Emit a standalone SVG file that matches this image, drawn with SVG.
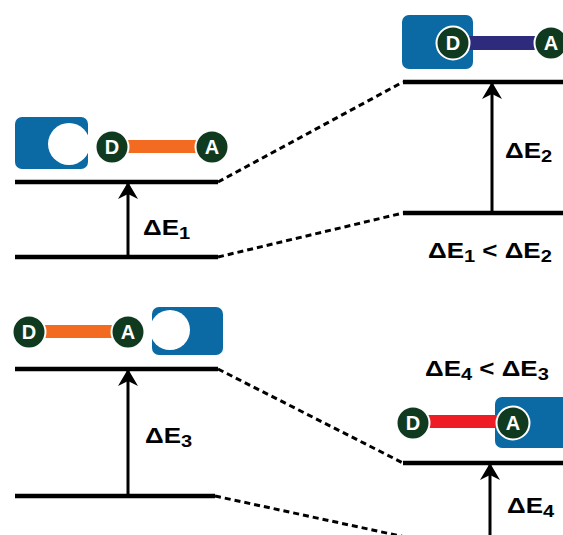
<svg xmlns="http://www.w3.org/2000/svg" width="563" height="535" viewBox="0 0 563 535">
<style>
.lvl{stroke:#000;stroke-width:4.5;fill:none}
.dash{stroke:#000;stroke-width:3;stroke-dasharray:6 4;fill:none}
.arr{stroke:#000;stroke-width:3;fill:none;marker-end:url(#ah)}
.box{fill:#0b69a3}
.hole{fill:#fff}
.ball{fill:#0f3a1f;stroke:#fff;stroke-width:2}
.bl{font-family:"Liberation Sans",Arial,sans-serif;font-weight:bold;font-size:20px;fill:#fff;text-anchor:middle}
.lab{font-family:"Liberation Sans",Arial,sans-serif;font-weight:bold;font-size:22px;fill:#000}
.sub{font-size:17px}
</style>
<defs>
<marker id="ah" markerUnits="userSpaceOnUse" markerWidth="24" markerHeight="24" viewBox="-20 -12 24 24" refX="0" refY="0" orient="auto">
<path d="M0,0 L-17,-10 L-12,0 L-17,10 Z" fill="#000"/>
</marker>
</defs>
<rect width="563" height="535" fill="#fff"/>
<g id="connectors">
<line class="lvl" x1="15" y1="182" x2="218" y2="182"/>
<line class="lvl" x1="15" y1="257" x2="218" y2="257"/>
<line class="lvl" x1="403" y1="82" x2="563" y2="82"/>
<line class="lvl" x1="403" y1="213" x2="563" y2="213"/>
<line class="lvl" x1="15" y1="369" x2="218" y2="369"/>
<line class="lvl" x1="15" y1="496" x2="215" y2="496"/>
<line class="lvl" x1="403" y1="463" x2="563" y2="463"/>
<line class="dash" x1="218" y1="182" x2="403" y2="82"/>
<line class="dash" x1="218" y1="257" x2="403" y2="213"/>
<line class="dash" x1="218" y1="369" x2="403" y2="463"/>
<line class="dash" x1="215" y1="496" x2="405" y2="537"/>
<line class="arr" x1="128" y1="257" x2="128" y2="182"/>
<line class="arr" x1="492" y1="213" x2="492" y2="82"/>
<line class="arr" x1="128" y1="496" x2="128" y2="369"/>
<line class="arr" x1="490" y1="540" x2="490" y2="463"/>
</g>
<g id="receptor-tl">
<rect class="box" x="15" y="117" width="73" height="52" rx="7"/>
<circle class="hole" cx="69" cy="144" r="21"/>
</g>
<g id="molecule-tl">
<rect x="126" y="140" width="72" height="13" fill="#f26b21"/>
<circle class="ball" cx="112" cy="147" r="16.5"/>
<text class="bl" x="112" y="154">D</text>
<circle class="ball" cx="212" cy="147" r="16.5"/>
<text class="bl" x="212" y="154">A</text>
</g>
<g id="complex-tr">
<rect class="box" x="402" y="15" width="71" height="54" rx="7"/>
<rect x="468" y="36" width="70" height="14" fill="#2e2a7c"/>
<circle class="ball" cx="453" cy="43" r="16.5"/>
<text class="bl" x="453" y="50">D</text>
<circle class="ball" cx="551" cy="43" r="16.5"/>
<text class="bl" x="551" y="50">A</text>
</g>
<g id="molecule-bl">
<rect x="43" y="325" width="72" height="13" fill="#f26b21"/>
<circle class="ball" cx="29" cy="332" r="16.5"/>
<text class="bl" x="29" y="339">D</text>
<circle class="ball" cx="128" cy="332" r="16.5"/>
<text class="bl" x="128" y="339">A</text>
</g>
<g id="receptor-bl">
<rect class="box" x="152" y="307" width="71" height="48" rx="7"/>
<circle class="hole" cx="170" cy="330" r="20"/>
</g>
<g id="complex-br">
<rect class="box" x="495" y="397" width="80" height="51" rx="7"/>
<rect x="428" y="415" width="70" height="13" fill="#ee1c25"/>
<circle class="ball" cx="413" cy="423" r="16.5"/>
<text class="bl" x="413" y="430">D</text>
<circle class="ball" cx="513" cy="423" r="16.5"/>
<text class="bl" x="513" y="430">A</text>
</g>
<g id="labels">
<text class="lab" transform="translate(143,235) scale(1.18,1)">ΔE<tspan class="sub" dy="4">1</tspan></text>
<text class="lab" transform="translate(505,158) scale(1.18,1)">ΔE<tspan class="sub" dy="4">2</tspan></text>
<text class="lab" transform="translate(428,258) scale(1.18,1)">ΔE<tspan class="sub" dy="4">1</tspan><tspan dy="-4"> &lt; ΔE</tspan><tspan class="sub" dy="4">2</tspan></text>
<text class="lab" transform="translate(425,376) scale(1.18,1)">ΔE<tspan class="sub" dy="4">4</tspan><tspan dy="-4"> &lt; ΔE</tspan><tspan class="sub" dy="4">3</tspan></text>
<text class="lab" transform="translate(145,443) scale(1.18,1)">ΔE<tspan class="sub" dy="4">3</tspan></text>
<text class="lab" transform="translate(507,513) scale(1.18,1)">ΔE<tspan class="sub" dy="4">4</tspan></text>
</g>
</svg>
